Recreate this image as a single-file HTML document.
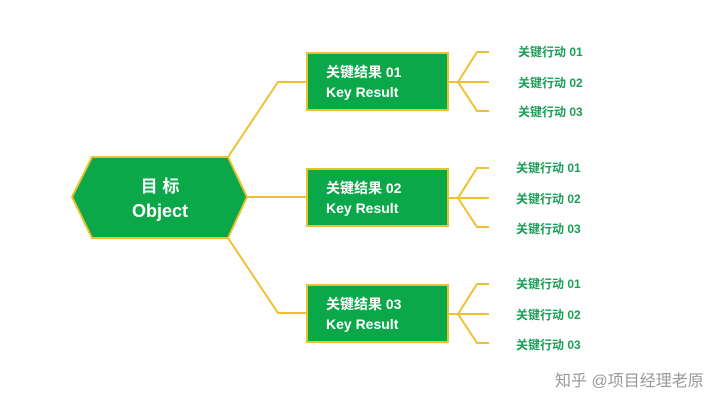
<!DOCTYPE html>
<html><head><meta charset="utf-8"><style>
html,body{margin:0;padding:0;background:#fff;}
svg text{font-family:"Liberation Sans","Noto Sans CJK SC",sans-serif;font-weight:bold;}
</style></head><body>
<svg width="720" height="410" viewBox="0 0 720 410" xmlns="http://www.w3.org/2000/svg">
<g fill="none" stroke="#edc12e" stroke-width="2">
<polyline points="228,157 278,82 307,82"/>
<line x1="247" y1="197" x2="307" y2="197"/>
<polyline points="228,238 278,313 307,313"/>
<g id="br">
<line x1="448" y1="82" x2="489" y2="82"/>
<polyline points="458,82 477,52 489,52"/>
<polyline points="458,82 477,111 489,111"/>
</g>
<use href="#br" transform="translate(0,116)"/>
<use href="#br" transform="translate(0,232)"/>
</g>
<polygon points="72,197 92,157 228,157 247,197 228,238 92,238" fill="#0ba84a" stroke="#edc12e" stroke-width="2"/>
<text x="160" y="192" fill="#fff" font-size="17" text-anchor="middle">目 标</text>
<text x="160" y="217" fill="#fff" font-size="18" text-anchor="middle">Object</text>
<g fill="#0ba84a" stroke="#edc12e" stroke-width="2">
<rect x="307" y="53" width="141" height="57"/>
<rect x="307" y="169" width="141" height="57"/>
<rect x="307" y="285" width="141" height="57"/>
</g>
<g fill="#fff" font-size="14">
<text x="326" y="77">关键结果 01</text><text x="326" y="97">Key Result</text>
<text x="326" y="193">关键结果 02</text><text x="326" y="213">Key Result</text>
<text x="326" y="309">关键结果 03</text><text x="326" y="329">Key Result</text>
</g>
<g fill="#1a9e55" font-size="12">
<text x="518" y="56">关键行动 01</text><text x="518" y="87">关键行动 02</text><text x="518" y="116">关键行动 03</text>
<text x="516" y="172">关键行动 01</text><text x="516" y="203">关键行动 02</text><text x="516" y="233">关键行动 03</text>
<text x="516" y="288">关键行动 01</text><text x="516" y="319">关键行动 02</text><text x="516" y="349">关键行动 03</text>
</g>
<text x="555" y="386" fill="#999" font-size="16" style="font-weight:normal">知乎 @项目经理老原</text>
</svg>
</body></html>
